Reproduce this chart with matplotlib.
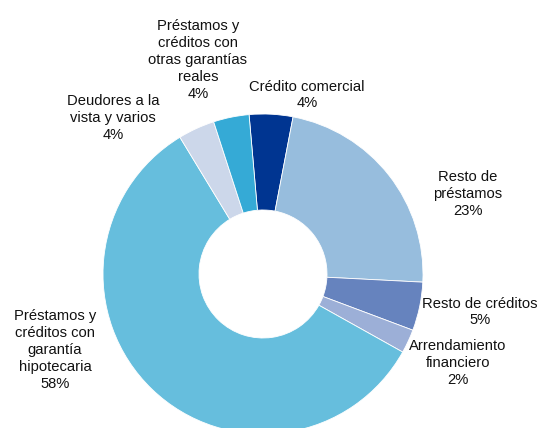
import matplotlib
matplotlib.use("Agg")
import matplotlib.pyplot as plt

names = ["Crédito comercial",
         "Resto de\npréstamos",
         "Resto de créditos",
         "Arrendamiento\nfinanciero",
         "Préstamos y\ncréditos con\ngarantía\nhipotecaria",
         "Deudores a la\nvista y varios",
         "Préstamos y\ncréditos con\notras garantías\nreales"]
shares = [4.4, 22.8, 4.9, 2.4, 58.2, 3.7, 3.6]
colors = ["#003591", "#97BDDD", "#6683BE", "#9CAFD7", "#66BEDD", "#CCD7EA", "#35AAD6"]

# label centres in image pixels (x, y from top)
label_pos = [(307, 95), (468, 194), (480, 312), (458, 363),
             (55, 350), (113, 118), (198, 60)]

W, H = 539, 428
fig = plt.figure(figsize=(W / 100, H / 100), dpi=100)
ax = fig.add_axes([0, 0, 1, 1])

cx, cy, r = 263, H - 274, 160
ax.pie(shares, colors=colors, startangle=95, counterclock=False,
       center=(cx, cy), radius=r,
       wedgeprops=dict(width=r * 0.6, edgecolor="white", linewidth=0.6))

for name, v, (x, y) in zip(names, shares, label_pos):
    ax.text(x, H - y, f"{name}\n{round(v):.0f}%", ha="center", va="center",
            multialignment="center", fontsize=10.6, linespacing=1.26,
            family=["Liberation Sans", "DejaVu Sans"], color="#111111")

ax.set_xlim(0, W)
ax.set_ylim(0, H)
ax.set_aspect("equal")
ax.axis("off")

fig.savefig("out.png", dpi=100)
